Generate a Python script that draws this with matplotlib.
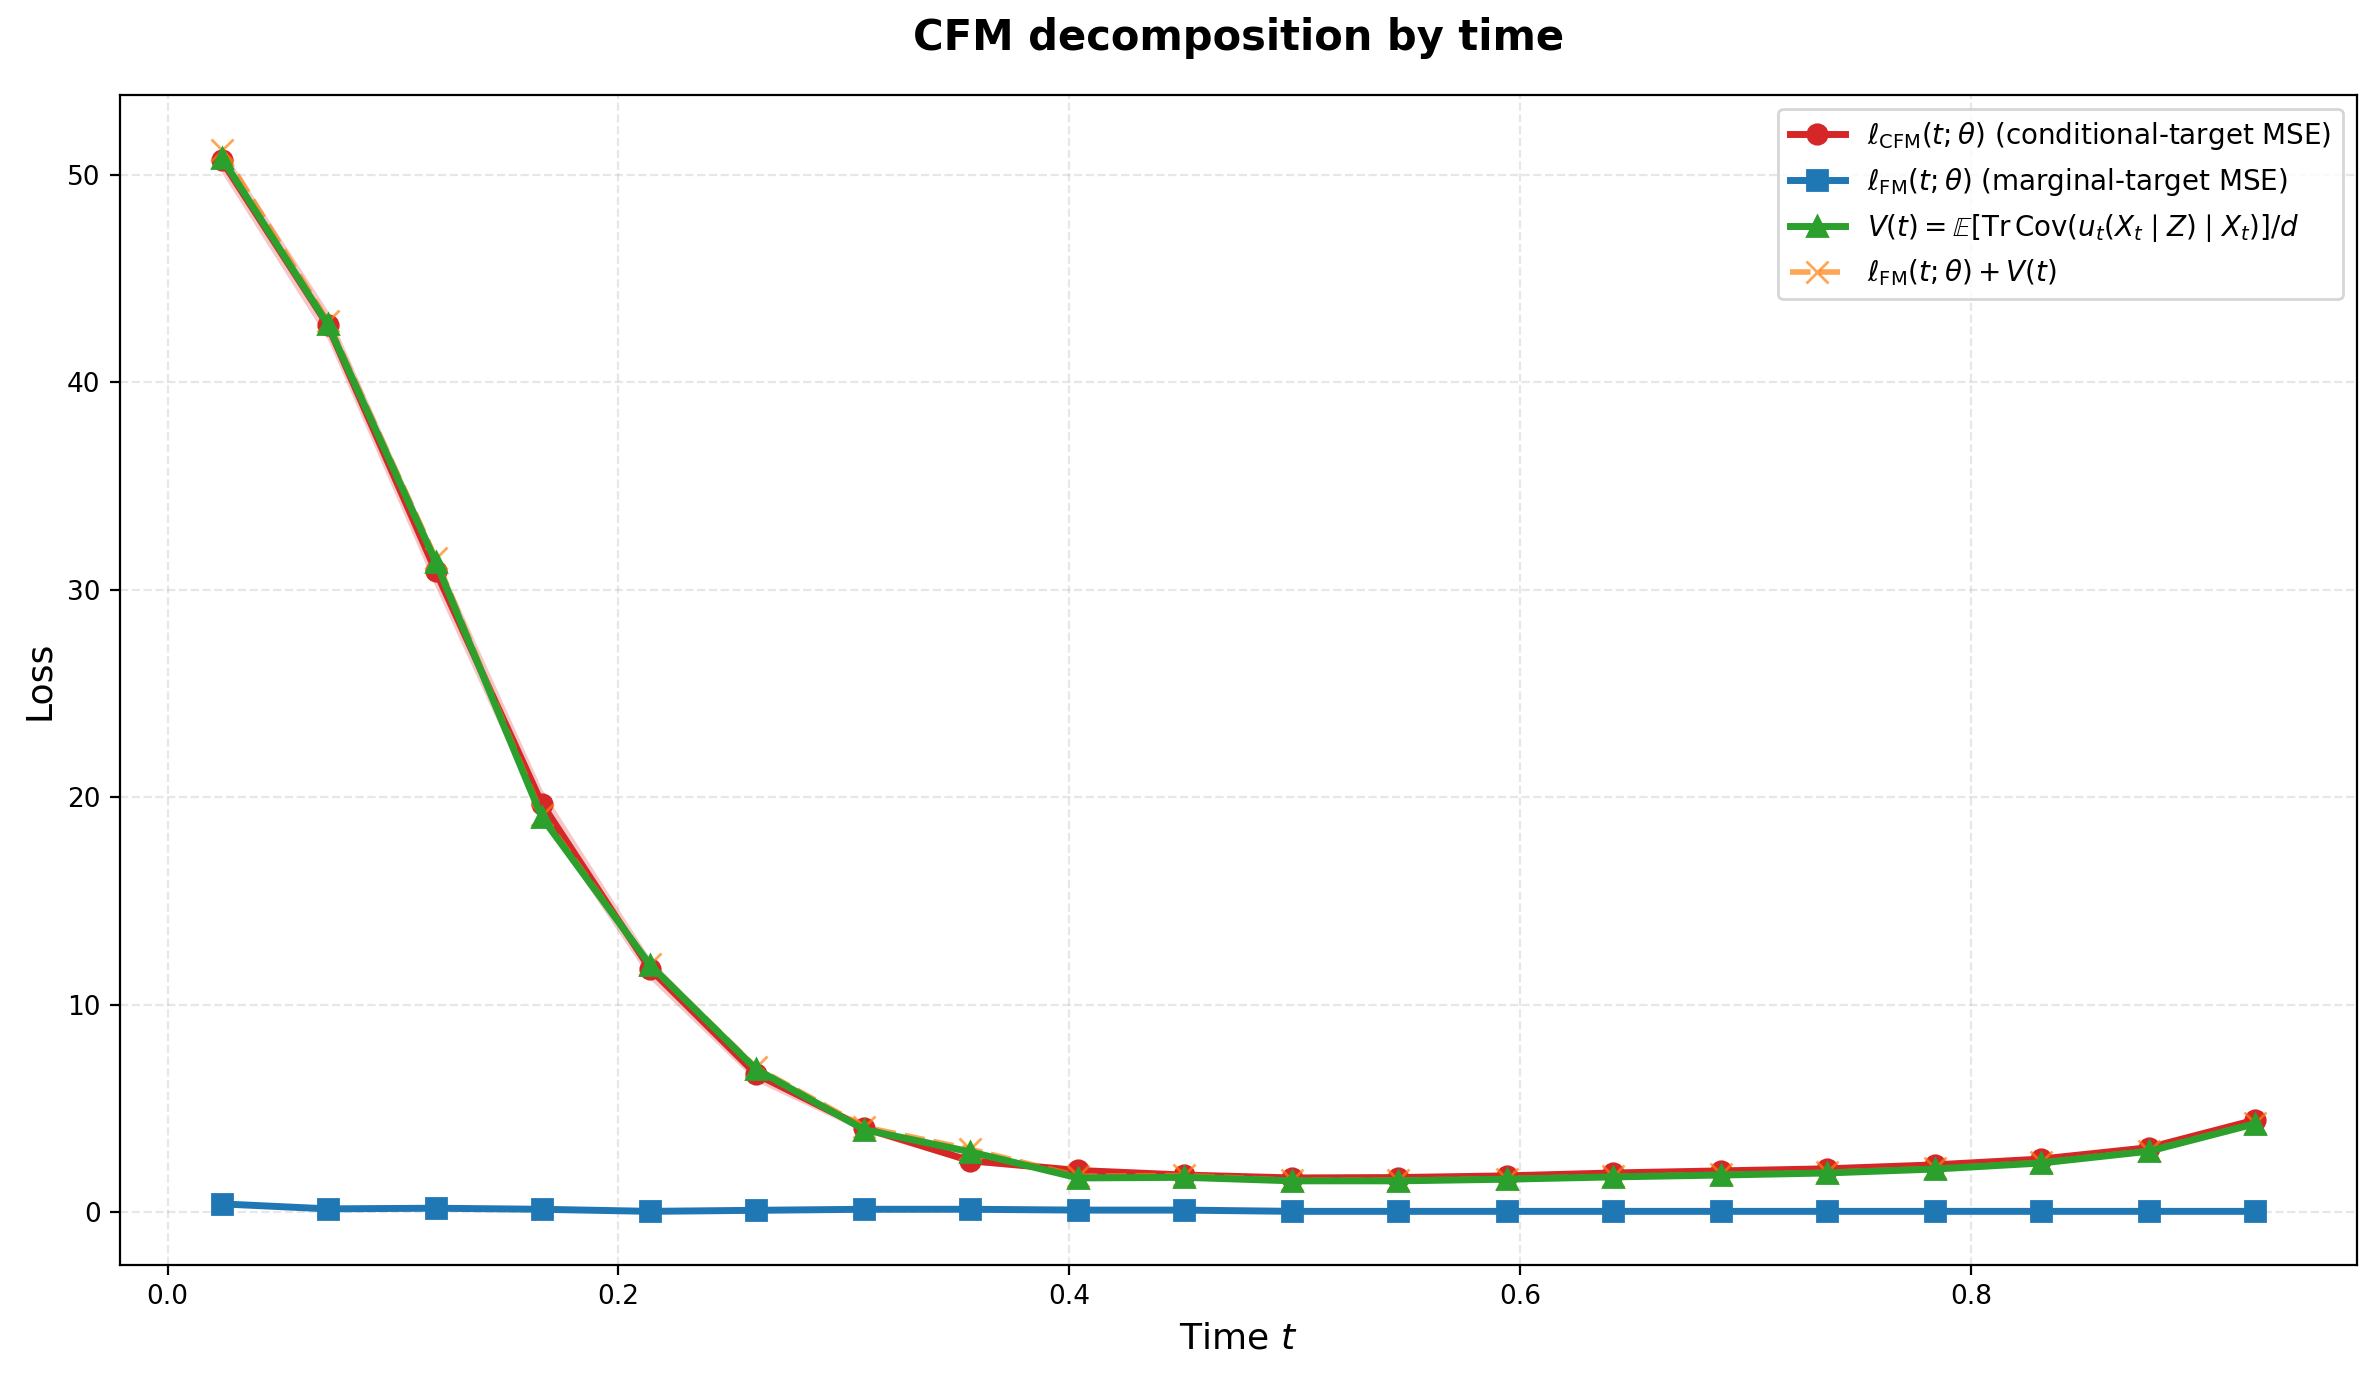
import matplotlib
matplotlib.use("Agg")
import matplotlib.pyplot as plt
import numpy as np

# time bin centres
t = np.array([0.024, 0.071, 0.119, 0.166, 0.214, 0.261, 0.309, 0.356, 0.404, 0.451,
              0.499, 0.546, 0.594, 0.641, 0.689, 0.736, 0.784, 0.831, 0.879, 0.926])

# conditional-target loss and its spread
cfm = np.array([50.70, 42.76, 30.88, 19.69, 11.72, 6.65, 4.05, 2.47, 2.00, 1.78,
                1.64, 1.66, 1.74, 1.88, 1.98, 2.08, 2.27, 2.55, 3.10, 4.43])
cfm_err = np.array([0.6, 0.7, 0.8, 0.7, 0.5, 0.35, 0.2, 0.15, 0.1, 0.08,
                    0.06, 0.06, 0.06, 0.06, 0.06, 0.07, 0.07, 0.08, 0.1, 0.12])

# marginal-target loss
fm = np.array([0.39, 0.15, 0.18, 0.13, 0.03, 0.08, 0.13, 0.13, 0.09, 0.09,
               0.03, 0.03, 0.03, 0.03, 0.03, 0.03, 0.03, 0.03, 0.03, 0.03])
fm_err = np.array([0.05, 0.03, 0.03, 0.03, 0.02, 0.02, 0.02, 0.02, 0.02, 0.02,
                   0.01, 0.01, 0.01, 0.01, 0.01, 0.01, 0.01, 0.01, 0.01, 0.01])

# conditional variance term
var_t = np.array([50.82, 42.80, 31.33, 19.03, 11.91, 6.89, 3.97, 2.90, 1.64, 1.67,
                  1.50, 1.50, 1.58, 1.69, 1.78, 1.88, 2.07, 2.36, 2.93, 4.25])

# FM + V
fm_plus_v = np.array([51.21, 42.95, 31.51, 19.16, 11.94, 6.97, 4.10, 3.03, 1.73, 1.76,
                      1.53, 1.53, 1.61, 1.72, 1.81, 1.91, 2.10, 2.39, 2.96, 4.28])

fig, ax = plt.subplots(figsize=(11.89, 6.895), dpi=200)
fig.subplots_adjust(left=0.0505, right=0.991, top=0.9313, bottom=0.0827)

ax.plot(t, cfm, color='#d62728', marker='o', linewidth=2.5, markersize=7, zorder=2,
        label=r'$\ell_{\mathrm{CFM}}(t;\theta)$ (conditional-target MSE)')
ax.fill_between(t, cfm - cfm_err, cfm + cfm_err, color='#d62728', alpha=0.25, linewidth=0)

ax.plot(t, fm, color='#1f77b4', marker='s', linewidth=2.5, markersize=7, zorder=2,
        label=r'$\ell_{\mathrm{FM}}(t;\theta)$ (marginal-target MSE)')
ax.fill_between(t, fm - fm_err, fm + fm_err, color='#1f77b4', alpha=0.25, linewidth=0)

ax.plot(t, var_t, color='#2ca02c', marker='^', linewidth=2.5, markersize=7, zorder=4,
        label=r'$V(t) = \mathbb{E}[\mathrm{Tr}\,\mathrm{Cov}(u_t(X_t \mid Z) \mid X_t)]/d$')

# sits under the green line, like in the original
ax.plot(t, fm_plus_v, color='#ff7f0e', marker='x', linestyle='--', linewidth=2,
        markersize=8, alpha=0.7, zorder=3, label=r'$\ell_{\mathrm{FM}}(t;\theta) + V(t)$')

ax.set_xlabel(r'Time $t$', fontsize=13)
ax.set_ylabel('Loss', fontsize=13)
ax.set_title('CFM decomposition by time', fontsize=15, fontweight='bold', pad=16)
ax.tick_params(labelsize=9.5)
ax.grid(True, linestyle='--', alpha=0.3)
ax.legend(loc='upper right', fontsize=10)

fig.savefig('out.png', dpi=200)
